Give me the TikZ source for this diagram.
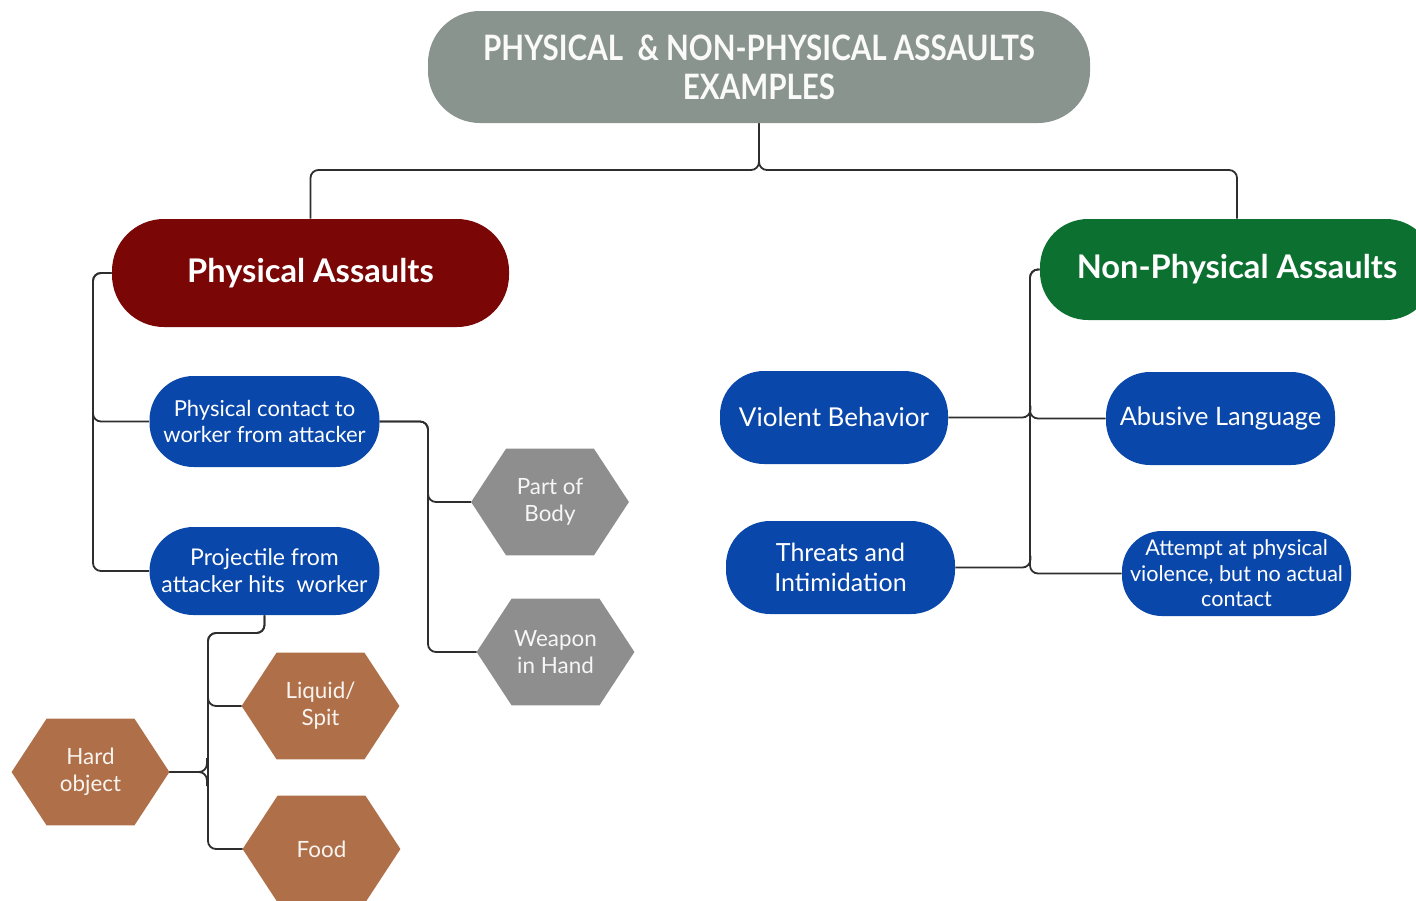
\documentclass[tikz,border=0pt]{standalone}
\usepackage{fontspec}
\usepackage{graphicx}
\setmainfont{Lato}
\usetikzlibrary{backgrounds}
\definecolor{titlegray}{HTML}{8A948F}
\definecolor{pared}{HTML}{7A0606}
\definecolor{npgreen}{HTML}{0C7030}
\definecolor{nodeblue}{HTML}{0A47AA}
\definecolor{hexgray}{HTML}{8E8E8E}
\definecolor{hexbrown}{HTML}{AF7049}
\definecolor{linecol}{HTML}{2E2E2E}
\newcommand{\hexfill}[2]{%
  \fill[#2] (#1.west) -- ([xshift=17.5pt]#1.north west) -- ([xshift=-17.5pt]#1.north east)
   -- (#1.east) -- ([xshift=-17.5pt]#1.south east) -- ([xshift=17.5pt]#1.south west) -- cycle;}
\begin{document}
\begin{tikzpicture}[x=0.5pt,y=-0.5pt,
  base/.style={draw=none, text=white, inner sep=0pt, align=center},
  cat/.style={base, font=\bfseries\fontsize{16.3}{19}\selectfont},
  sub/.style={base, fill=nodeblue, minimum width=115pt, rounded corners=22pt},
  hexnode/.style={base, minimum width=78.5pt, minimum height=53pt, font=\fontsize{11.2}{13.5}\selectfont},
  conn/.style={draw=linecol, line width=0.9pt, rounded corners=4pt}]
\useasboundingbox (0,0) rectangle (1416,900);

% title
\node[base, fill=titlegray, minimum width=331pt, minimum height=56pt, rounded corners=26pt,
      font=\fontsize{17.5}{20}\selectfont\bfseries, text=white!95!titlegray] (T) at (759,67)
  {\scalebox{0.845}[1]{PHYSICAL\ \ \& NON-PHYSICAL ASSAULTS}\\[-0.5pt]\scalebox{0.845}[1]{EXAMPLES}};

% categories
\node[cat, fill=pared, minimum width=198.5pt, minimum height=54pt, rounded corners=26pt] (PA) at (310.5,273) {Physical Assaults};
\node[cat, fill=npgreen, minimum width=197pt, minimum height=50.5pt, rounded corners=24pt] (NP) at (1237,269.5) {Non-Physical Assaults};

% physical sub nodes
\node[sub, minimum height=45.5pt, font=\fontsize{11}{13}\selectfont] (PC) at (264.5,421.5) {Physical contact to\\worker from attacker};
\node[sub, minimum height=44pt, font=\fontsize{11.5}{13.5}\selectfont] (PR) at (264.5,571) {Projectile from\\attacker hits\ \ worker};

% non-physical sub nodes
\node[sub, minimum width=114pt, minimum height=46.5pt, font=\fontsize{13}{15}\selectfont] (VB) at (834,417.5) {Violent Behavior};
\node[sub, minimum width=114.5pt, minimum height=46.5pt, font=\fontsize{12.7}{15}\selectfont] (AL) at (1220.5,418.5) {Abusive Language};
\node[sub, minimum width=114.5pt, minimum height=46.5pt, font=\fontsize{12.5}{15}\selectfont] (TI) at (840.5,567.5) {Threats and\\Intimidation};
\node[sub, minimum width=114.5pt, minimum height=42.5pt, rounded corners=20pt, font=\fontsize{10.8}{12.8}\selectfont] (AT) at (1236.5,573.5) {Attempt at physical\\violence, but no actual\\contact};

% hexagons
\node[hexnode, text=white!92!hexgray] (PB) at (550,502) {Part of\\Body};
\node[hexnode, text=white!92!hexgray] (WH) at (555.5,652) {Weapon\\in Hand};
\node[hexnode, text=white!92!hexbrown] (LS) at (320.5,706) {Liquid/\\Spit};
\node[hexnode, text=white!92!hexbrown] (HO) at (90.5,772) {Hard\\object};
\node[hexnode, text=white!92!hexbrown] (FD) at (321.5,849) {Food};

\begin{pgfonlayer}{background}
  \hexfill{PB}{hexgray}
  \hexfill{WH}{hexgray}
  \hexfill{LS}{hexbrown}
  \hexfill{HO}{hexbrown}
  \hexfill{FD}{hexbrown}
\end{pgfonlayer}

% junction coordinates
\coordinate (jT) at (759,170);
\coordinate (jPA) at (93,273);
\coordinate (jPC) at (428,421.5);
\coordinate (jPR) at (208,633);
\coordinate (jNP) at (1030,269.5);

% connectors
\draw[conn] (T.south) -- (jT) -| (PA.north);
\draw[conn] (T.south) -- (jT) -| (NP.north);

\draw[conn] (PA.west) -- (jPA) |- (PC.west);
\draw[conn] (PA.west) -- (jPA) |- (PR.west);

\draw[conn] (PC.east) -- (jPC) |- (PB.west);
\draw[conn] (PC.east) -- (jPC) |- (WH.west);

\draw[conn] (PR.south) |- (jPR) |- (LS.west);
\draw[conn] (PR.south) |- (jPR) |- (FD.west);
\draw[conn] (HO.east) -| ++(37.5,-14);
\draw[conn] (HO.east) -| ++(37.5,14);

\draw[conn] (NP.west) -- (jNP) |- (AL.west);
\draw[conn] (NP.west) -- (jNP) |- (AT.west);
\draw[conn] (VB.east) -| ++(82,-12);
\draw[conn] (TI.east) -| ++(75,-12);
\end{tikzpicture}
\end{document}
